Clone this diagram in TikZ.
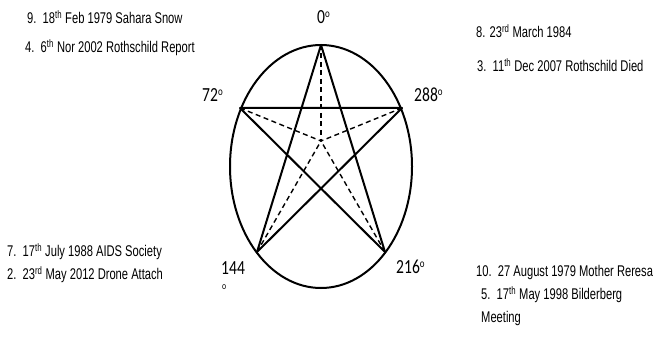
\documentclass[tikz,border=0pt]{standalone}
\usetikzlibrary{shapes.geometric}
\usepackage{fontspec}
\setmainfont{Liberation Sans}[FakeStretch=0.72]
\newfontfamily\degfont{Carlito}[FakeStretch=0.78]
\newcommand{\dg}{\raisebox{0.3em}{\fontsize{11.5}{11.5}\selectfont o}}
\begin{document}
\begin{tikzpicture}[x=1pt,y=-1pt,
  item/.style={anchor=west,inner sep=0pt,font=\fontsize{15.5}{18}\selectfont},
  deg/.style={anchor=west,inner sep=0pt,font=\degfont\fontsize{20}{22}\selectfont},
  solidline/.style={line width=2pt,line join=round},
  dashline/.style={line width=1.4pt,dash pattern=on 5pt off 3.5pt}]
\useasboundingbox (0,0) rectangle (658,342);
% ellipse
\node[draw,line width=2pt,ellipse,minimum width=182pt,minimum height=243pt,inner sep=0pt] (ell) at (321,166.5) {};
% vertices
\coordinate (v0) at (321,45);
\coordinate (v72) at (240,108);
\coordinate (v288) at (402,108);
\coordinate (v144) at (257,252);
\coordinate (v216) at (385,252);
\coordinate (c) at (321,141);
% star
\draw[solidline] (v0) -- (v144) -- (v288) -- (v72) -- (v216) -- cycle;
% dashed
\foreach \v in {v0,v72,v288,v144,v216} \draw[dashline] (\v) -- (c);
% degree labels
\node[deg] (d0) at (317,17) {0\dg};
\node[deg] (d72) at (202,95) {72\dg};
\node[deg] (d288) at (414,95) {288\dg};
\node[deg] (d144) at (221,268) {144};
\node[deg,font=\degfont\fontsize{10}{10}\selectfont] (d144o) at (222,287) {o};
\node[deg] (d216) at (396,267) {216\dg};
% list items
\node[item] (t9) at (27,17) {9.\ \ 18\textsuperscript{th} Feb 1979 Sahara Snow};
\node[item] (t4) at (25,48) {4.\ \ 6\textsuperscript{th} Nor 2002 Rothschild Report};
\node[item] (t8) at (476,31) {8. 23\textsuperscript{rd} March 1984};
\node[item] (t3) at (477,65) {3.\ \ 11\textsuperscript{th} Dec 2007 Rothschild Died};
\node[item] (t7) at (7,252) {7.\ \ 17\textsuperscript{th} July 1988 AIDS Society};
\node[item] (t2) at (7,275) {2.\ \ 23\textsuperscript{rd} May 2012 Drone Attach};
\node[item] (t10) at (476,272) {10.\ \ 27 August 1979 Mother Reresa};
\node[item] (t5) at (481,295) {5.\ \ 17\textsuperscript{th} May 1998 Bilderberg};
\node[item] (t5b) at (481,318) {Meeting};
\end{tikzpicture}
\end{document}
